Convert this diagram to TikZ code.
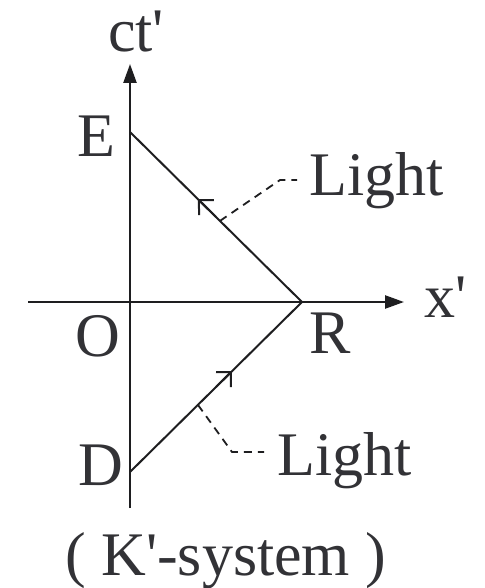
\documentclass[tikz,border=0pt]{standalone}
\usepackage{fontspec}
\setmainfont{Liberation Serif}[Ligatures=TeXOff]
\usetikzlibrary{arrows.meta,calc}
\definecolor{txt}{RGB}{50,50,54}
\definecolor{ink}{RGB}{30,30,32}
\begin{document}
\begin{tikzpicture}[x=1pt,y=-1pt,
  lbl/.style={anchor=base west,inner sep=0pt,text=txt,font=\fontsize{62}{70}\selectfont},
  axis/.style={draw=ink,line width=2.4pt,-{Triangle[length=19pt,width=13pt]}},
  ray/.style={draw=ink,line width=2pt},
  leader/.style={draw=ink,line width=1.8pt,dash pattern=on 8pt off 6pt},
  barb/.style={ink,line width=2pt,{Straight Barb[length=10.6pt,width=21.2pt]}-}]
\useasboundingbox (0,0) rectangle (484,588);
% key points
\coordinate (ybot) at (130,508);
\coordinate (ytop) at (130,64);
\coordinate (xl) at (28,302);
\coordinate (xr) at (404,302);
\coordinate (e) at (130,132);
\coordinate (r) at (302,302);
\coordinate (d) at (130,472);
% axes
\draw[axis] (ybot) -- (ytop);
\draw[axis] (xl) -- (xr);
% light rays
\draw[ray] (e) -- (r);
\draw[ray] (d) -- (r);
% direction barbs
\coordinate (a1) at ($(e)!0.395!(r)$);
\coordinate (a1b) at ($(e)!0.5!(r)$);
\draw[barb] (a1) -- (a1b);
\coordinate (a2) at ($(d)!0.593!(r)$);
\coordinate (a2b) at ($(d)!0.5!(r)$);
\draw[barb] (a2) -- (a2b);
% leaders
\coordinate (l1s) at ($(e)!0.523!(r)$);
\coordinate (l1m) at (280,180);
\coordinate (l1e) at (297,180);
\draw[leader] (l1s) -- (l1m) -- (l1e);
\coordinate (l2s) at ($(d)!0.395!(r)$);
\coordinate (l2m) at (232,452);
\coordinate (l2e) at (264,452);
\draw[leader] (l2s) -- (l2m) -- (l2e);
% labels
\node[lbl] (ct) at (108,52) {ct'};
\node[lbl] (E) at (77,157) {E};
\node[lbl] (O) at (75,356) {O};
\node[lbl] (R) at (309,353) {R};
\node[lbl] (D) at (78,485) {D};
\node[lbl] (xp) at (424,317) {x'};
\node[lbl] (L1) at (309,195) {Light};
\node[lbl] (L2) at (277,475) {Light};
\node[lbl] (K) at (65,575) {( K'-system )};
\end{tikzpicture}
\end{document}
